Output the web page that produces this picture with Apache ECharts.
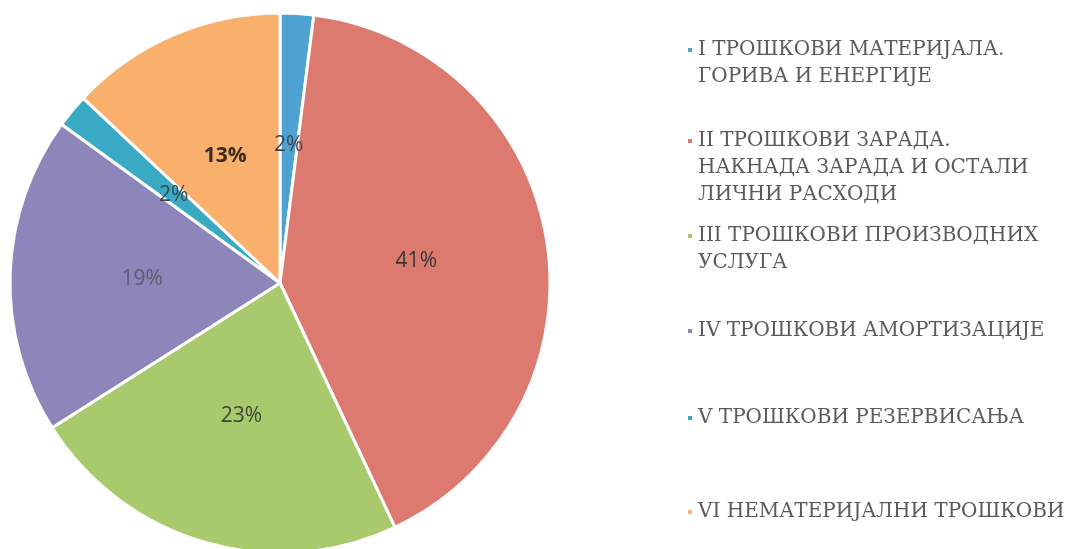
<!DOCTYPE html>
<html>
<head>
<meta charset="utf-8">
<script src="https://cdn.jsdelivr.net/npm/echarts@6/dist/echarts.min.js"></script>
<style>
  html, body { margin: 0; padding: 0; background: #fff; }
  #chart { width: 1076px; height: 549px; }
</style>
</head>
<body>
<div id="chart"></div>
<script>
// категорије трошкова (редослед кришки у смеру казаљке)
const categories = [
  'I ТРОШКОВИ МАТЕРИЈАЛА.\nГОРИВА И ЕНЕРГИЈЕ',
  'II ТРОШКОВИ ЗАРАДА.\nНАКНАДА ЗАРАДА И ОСТАЛИ\nЛИЧНИ РАСХОДИ',
  'III ТРОШКОВИ ПРОИЗВОДНИХ\nУСЛУГА',
  'IV ТРОШКОВИ АМОРТИЗАЦИЈЕ',
  'V ТРОШКОВИ РЕЗЕРВИСАЊА',
  'VI НЕМАТЕРИЈАЛНИ ТРОШКОВИ'
]
const shares = [2, 41, 23, 19, 2, 13]
const colors = ['#4fa3d3', '#dc7a6f', '#a8c96c', '#8c86bb', '#3aa9c4', '#f8b06c']
const labelColors = ['#3f4450', '#3b3636', '#3c4632', '#5e5c70', '#384650', '#3a2c22']

// средина првог реда сваке ставке легенде
const legendRowY = [49, 140, 235, 331, 418, 512]
const LINE_H = 27
const MARK = 6

const chart = echarts.init(document.getElementById('chart'))

function markerIcon(lines) {
  if (lines === 1) return 'rect'
  const h = lines * LINE_H
  const y0 = (LINE_H - MARK) / 2
  // квадратић поравнат са првим редом текста
  return 'path://M0,0M0,' + y0 + 'h' + MARK + 'v' + MARK + 'h-' + MARK + 'zM' + MARK + ',' + h
}

const legends = categories.map((name, i) => {
  const lines = name.split('\n').length
  return {
    data: [name],
    orient: 'vertical',
    left: 686,
    top: legendRowY[i] - LINE_H / 2,
    padding: 0,
    itemWidth: MARK,
    itemHeight: lines === 1 ? MARK : lines * LINE_H,
    itemGap: 0,
    icon: markerIcon(lines),
    selectedMode: false,
    textStyle: {
      fontFamily: 'DejaVu Serif',
      fontSize: 20,
      color: '#5a5a5a',
      lineHeight: LINE_H,
      padding: [0, 0, 0, 0]
    }
  }
})

chart.setOption({
  animation: false,
  color: colors,
  legend: legends,
  series: [{
    type: 'pie',
    center: [280, 283],
    radius: 270,
    startAngle: 90,
    clockwise: true,
    itemStyle: { borderColor: '#fff', borderWidth: 3 },
    label: {
      show: true,
      position: 'inside',
      formatter: '{c}%',
      fontFamily: 'Open Sans',
      fontSize: 21
    },
    labelLine: { show: false },
    emphasis: { disabled: true },
    data: categories.map((name, i) => ({
      name,
      value: shares[i],
      label: {
        color: labelColors[i],
        fontWeight: i === 5 ? 'bold' : 'normal'
      }
    }))
  }]
})
</script>
</body>
</html>
